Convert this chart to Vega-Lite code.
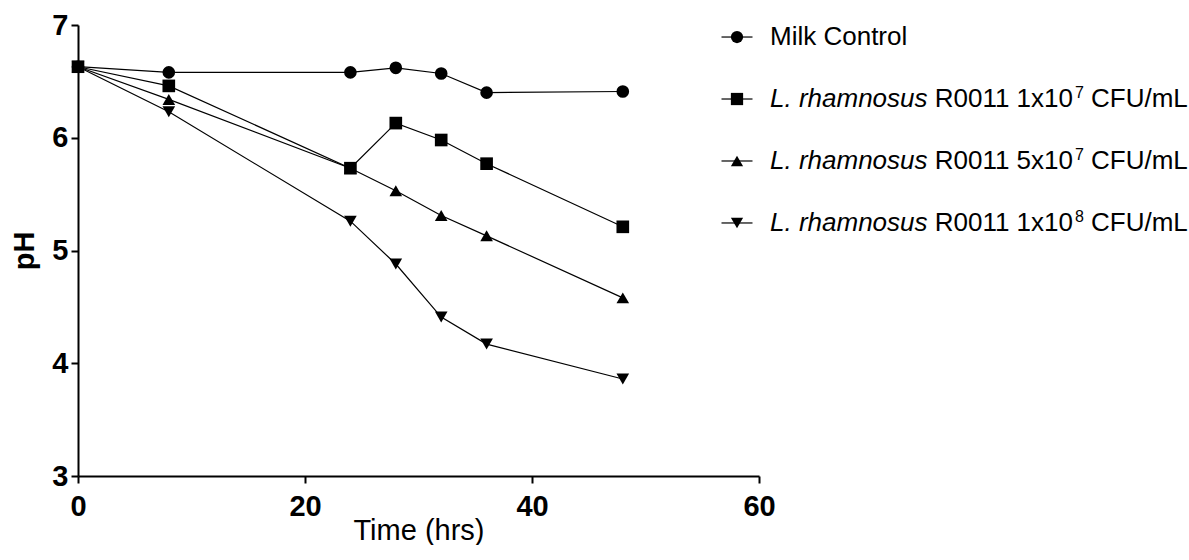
{
  "$schema": "https://vega.github.io/schema/vega-lite/v6.json",
  "background": "white",
  "padding": {"left": 10, "top": 11, "right": 0, "bottom": 0},
  "bounds": "flush",
  "spacing": 0,
  "config": {
    "view": {"stroke": null},
    "font": "Liberation Sans",
    "axis": {
      "grid": false,
      "domainColor": "black",
      "domainWidth": 2,
      "tickColor": "black",
      "tickWidth": 2,
      "tickSize": 7,
      "labelFont": "Liberation Sans",
      "labelFontWeight": "bold",
      "labelFontSize": 29,
      "labelColor": "black",
      "labelFlush": false,
      "labelOverlap": false,
      "titleFont": "Liberation Sans",
      "titleColor": "black",
      "titleFontSize": 29
    }
  },
  "datasets": {
    "ph": [
      {"series": "Milk Control", "time": 0, "pH": 6.63},
      {"series": "Milk Control", "time": 8, "pH": 6.58},
      {"series": "Milk Control", "time": 24, "pH": 6.58},
      {"series": "Milk Control", "time": 28, "pH": 6.62},
      {"series": "Milk Control", "time": 32, "pH": 6.57},
      {"series": "Milk Control", "time": 36, "pH": 6.40},
      {"series": "Milk Control", "time": 48, "pH": 6.41},
      {"series": "L. rhamnosus R0011 1x10^8 CFU/mL", "time": 0, "pH": 6.63},
      {"series": "L. rhamnosus R0011 1x10^8 CFU/mL", "time": 8, "pH": 6.23},
      {"series": "L. rhamnosus R0011 1x10^8 CFU/mL", "time": 24, "pH": 5.26},
      {"series": "L. rhamnosus R0011 1x10^8 CFU/mL", "time": 28, "pH": 4.88},
      {"series": "L. rhamnosus R0011 1x10^8 CFU/mL", "time": 32, "pH": 4.41},
      {"series": "L. rhamnosus R0011 1x10^8 CFU/mL", "time": 36, "pH": 4.17},
      {"series": "L. rhamnosus R0011 1x10^8 CFU/mL", "time": 48, "pH": 3.86},
      {"series": "L. rhamnosus R0011 5x10^7 CFU/mL", "time": 0, "pH": 6.63},
      {"series": "L. rhamnosus R0011 5x10^7 CFU/mL", "time": 8, "pH": 6.34},
      {"series": "L. rhamnosus R0011 5x10^7 CFU/mL", "time": 24, "pH": 5.73},
      {"series": "L. rhamnosus R0011 5x10^7 CFU/mL", "time": 28, "pH": 5.53},
      {"series": "L. rhamnosus R0011 5x10^7 CFU/mL", "time": 32, "pH": 5.31},
      {"series": "L. rhamnosus R0011 5x10^7 CFU/mL", "time": 36, "pH": 5.13},
      {"series": "L. rhamnosus R0011 5x10^7 CFU/mL", "time": 48, "pH": 4.58},
      {"series": "L. rhamnosus R0011 1x10^7 CFU/mL", "time": 0, "pH": 6.63},
      {"series": "L. rhamnosus R0011 1x10^7 CFU/mL", "time": 8, "pH": 6.46},
      {"series": "L. rhamnosus R0011 1x10^7 CFU/mL", "time": 24, "pH": 5.73},
      {"series": "L. rhamnosus R0011 1x10^7 CFU/mL", "time": 28, "pH": 6.13},
      {"series": "L. rhamnosus R0011 1x10^7 CFU/mL", "time": 32, "pH": 5.98},
      {"series": "L. rhamnosus R0011 1x10^7 CFU/mL", "time": 36, "pH": 5.77},
      {"series": "L. rhamnosus R0011 1x10^7 CFU/mL", "time": 48, "pH": 5.21}
    ],
    "legend": [
      {"series": "Milk Control", "plain": "Milk Control", "species": "", "strain": "", "power": "", "unit": ""},
      {"series": "L. rhamnosus R0011 1x10^7 CFU/mL", "plain": "", "species": "L. rhamnosus", "strain": "R0011 1x10", "power": "7", "unit": "CFU/mL"},
      {"series": "L. rhamnosus R0011 5x10^7 CFU/mL", "plain": "", "species": "L. rhamnosus", "strain": "R0011 5x10", "power": "7", "unit": "CFU/mL"},
      {"series": "L. rhamnosus R0011 1x10^8 CFU/mL", "plain": "", "species": "L. rhamnosus", "strain": "R0011 1x10", "power": "8", "unit": "CFU/mL"}
    ]
  },
  "hconcat": [
    {
      "width": 681,
      "height": 451,
      "data": {"name": "ph"},
      "encoding": {
        "x": {
          "field": "time", "type": "quantitative",
          "scale": {"domain": [0, 60], "nice": false, "zero": false},
          "axis": {"values": [0, 20, 40, 60], "title": "Time (hrs)", "titleFontWeight": "normal", "labelPadding": 9, "titlePadding": -5}
        },
        "y": {
          "field": "pH", "type": "quantitative",
          "scale": {"domain": [3, 7], "nice": false, "zero": false},
          "axis": {"values": [3, 4, 5, 6, 7], "title": "pH", "titleFontWeight": "bold", "labelPadding": 3, "titlePadding": 12}
        }
      },
      "layer": [
        {
          "mark": {"type": "line", "color": "black", "strokeWidth": 1.2},
          "encoding": {"detail": {"field": "series"}}
        },
        {
          "mark": {"type": "point", "filled": true, "color": "black", "opacity": 1, "size": 160},
          "encoding": {
            "shape": {
              "field": "series", "type": "nominal", "legend": null,
              "scale": {
                "domain": ["Milk Control", "L. rhamnosus R0011 1x10^7 CFU/mL", "L. rhamnosus R0011 5x10^7 CFU/mL", "L. rhamnosus R0011 1x10^8 CFU/mL"],
                "range": ["circle", "square", "triangle-up", "triangle-down"]
              }
            }
          }
        }
      ]
    },
    {
      "width": 33,
      "height": 210,
      "data": {"name": "legend"},
      "encoding": {
        "y": {
          "field": "series", "type": "nominal", "axis": null,
          "scale": {
            "type": "point", "padding": 0.194,
            "domain": ["Milk Control", "L. rhamnosus R0011 1x10^7 CFU/mL", "L. rhamnosus R0011 5x10^7 CFU/mL", "L. rhamnosus R0011 1x10^8 CFU/mL"]
          }
        }
      },
      "layer": [
        {
          "mark": {"type": "point", "shape": "stroke", "size": 961, "color": "black", "strokeWidth": 1.2, "opacity": 1},
          "encoding": {"x": {"datum": 0, "type": "quantitative", "scale": {"domain": [0.4, 1], "zero": false, "nice": false}, "axis": null}}
        },
        {
          "mark": {"type": "point", "filled": true, "color": "black", "opacity": 1, "size": 150},
          "encoding": {
            "x": {"datum": 0, "type": "quantitative", "scale": {"domain": [0.4, 1], "zero": false, "nice": false}, "axis": null},
            "shape": {
              "field": "series", "type": "nominal", "legend": null,
              "scale": {
                "domain": ["Milk Control", "L. rhamnosus R0011 1x10^7 CFU/mL", "L. rhamnosus R0011 5x10^7 CFU/mL", "L. rhamnosus R0011 1x10^8 CFU/mL"],
                "range": ["circle", "square", "triangle-up", "triangle-down"]
              }
            }
          }
        },
        {
          "mark": {"type": "text", "align": "left", "baseline": "middle", "font": "Liberation Sans", "fontSize": 26, "color": "black", "dx": -22},
          "encoding": {
            "x": {"datum": 1, "type": "quantitative", "scale": {"domain": [0.4, 1], "zero": false, "nice": false}, "axis": null},
            "text": {"field": "plain"}
          }
        },
        {
          "mark": {"type": "text", "align": "left", "baseline": "middle", "font": "Liberation Sans", "fontSize": 26, "fontStyle": "italic", "color": "black", "dx": -22},
          "encoding": {
            "x": {"datum": 1, "type": "quantitative", "scale": {"domain": [0.4, 1], "zero": false, "nice": false}, "axis": null},
            "text": {"field": "species"}
          }
        },
        {
          "mark": {"type": "text", "align": "left", "baseline": "middle", "font": "Liberation Sans", "fontSize": 26, "color": "black", "dx": 142.7},
          "encoding": {
            "x": {"datum": 1, "type": "quantitative", "scale": {"domain": [0.4, 1], "zero": false, "nice": false}, "axis": null},
            "text": {"field": "strain"}
          }
        },
        {
          "mark": {"type": "text", "align": "left", "baseline": "middle", "font": "Liberation Sans", "fontSize": 16, "color": "black", "dx": 283, "dy": -6},
          "encoding": {
            "x": {"datum": 1, "type": "quantitative", "scale": {"domain": [0.4, 1], "zero": false, "nice": false}, "axis": null},
            "text": {"field": "power"}
          }
        },
        {
          "mark": {"type": "text", "align": "left", "baseline": "middle", "font": "Liberation Sans", "fontSize": 26, "color": "black", "dx": 299},
          "encoding": {
            "x": {"datum": 1, "type": "quantitative", "scale": {"domain": [0.4, 1], "zero": false, "nice": false}, "axis": null},
            "text": {"field": "unit"}
          }
        }
      ]
    }
  ]
}
